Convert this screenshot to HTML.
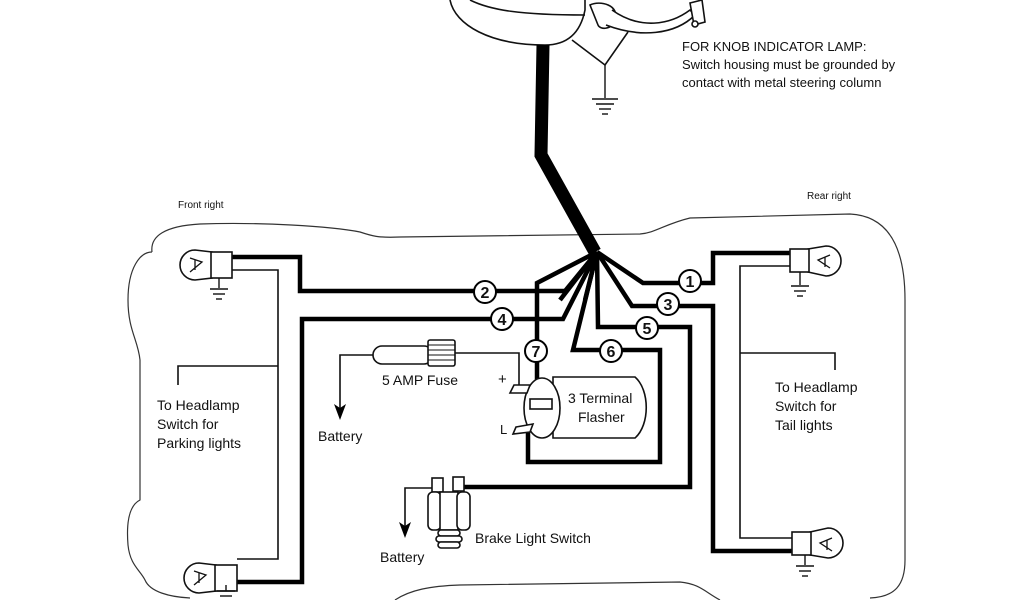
<!DOCTYPE html>
<html><head><meta charset="utf-8"><style>
html,body{margin:0;padding:0;background:#fff;}
svg{display:block;}
text{font-family:"Liberation Sans",sans-serif;fill:#111;}
</style></head><body>
<svg width="1024" height="600" viewBox="0 0 1024 600" xmlns="http://www.w3.org/2000/svg">
<!-- car body outline -->
<g fill="none" stroke="#333" stroke-width="1.2">
<path d="M152,252 C150,236 165,226 200,224 C260,222 330,226 360,232 C372,236 378,238 400,237 L640,234 C655,233 665,224 690,218 L850,214 C890,216 905,250 905,300 L905,560 C905,585 895,597 870,598"/>
<path d="M152,252 C140,252 128,268 128,300 C128,330 138,340 140,360 L140,500 C130,505 126,520 128,545 C130,565 140,570 145,580 C150,592 170,597 190,598"/>
<path d="M395,600 C410,590 430,586 460,585 L680,582 C700,584 705,592 720,600"/>
</g>
<!-- switch at top -->
<g fill="#fff" stroke="#111" stroke-width="1.6">
<path d="M450,0 C455,25 490,45 545,45 C565,45 580,35 585,10 L585,0"/>
<path d="M470,0 C490,10 520,15 585,15"/>
<path d="M590,5 C600,0 620,5 615,20 C612,30 600,30 598,25 Z"/>
<path d="M612,10 C640,30 670,25 690,10 L695,15 C675,35 640,38 606,25"/>
<path d="M690,3 L702,0 L705,22 L694,25 Z"/>
<circle cx="695" cy="24" r="3"/>
<path d="M572,40 L605,65 L628,32"/>
</g>
<g stroke="#111" stroke-width="1.4">
<line x1="605" y1="65" x2="605" y2="98"/>
<line x1="592" y1="99" x2="618" y2="99"/>
<line x1="596" y1="104" x2="614" y2="104"/>
<line x1="599" y1="109" x2="611" y2="109"/>
<line x1="602" y1="114" x2="608" y2="114"/>
</g>
<text x="682" y="51" font-size="13">FOR KNOB INDICATOR LAMP:</text>
<text x="682" y="69" font-size="13">Switch housing must be grounded by</text>
<text x="682" y="87" font-size="13">contact with metal steering column</text>
<path d="M543,45 L541,155 L595,252" fill="none" stroke="#000" stroke-width="13" stroke-linejoin="miter"/>
<text x="178" y="208" font-size="10">Front right</text>
<text x="807" y="199" font-size="10">Rear right</text>

<g fill="none" stroke="#000" stroke-width="4.5" stroke-linejoin="miter">
<path d="M232,257 L300,257 L300,291 L565,291 L597,252"/>
<path d="M237,582 L302,582 L302,319 L563,319 L597,252"/>
<path d="M537,398 L537,283 L597,252"/>
<path d="M528,428 L528,462 L660,462 L660,350 L573,350 L597,252"/>
<path d="M460,487 L690,487 L690,327 L598,327 L597,252"/>
<path d="M792,551 L713,551 L713,306 L632,306 L597,252"/>
<path d="M792,253 L713,253 L713,283 L643,283 L597,252"/>
<path d="M597,252 L585,300 M597,252 L560,300"/>
</g>
<g fill="none" stroke="#111" stroke-width="1.6">
<path d="M232,270 L278,270 L278,559 L237,559"/>
<path d="M178,385 L178,366 L278,366"/>
<path d="M792,266 L740,266 L740,538 L792,538"/>
<path d="M740,353 L835,353 L835,370"/>
<path d="M376,355 L340,355 L340,410"/>
<path d="M455,353 L519,353 L519,385"/>
<path d="M437,488 L405,488 L405,528"/>
</g>
<path d="M334,404 L340,420 L346,404 L340,408 Z" fill="#000"/>
<path d="M399,522 L405,538 L411,522 L405,526 Z" fill="#000"/>

<g fill="#fff" stroke="#111" stroke-width="1.6">
<path d="M212,252 L195,250 A15,15 0 1 0 195,280 L212,278 Z"/>
<rect x="211" y="252" width="21" height="26"/>
<path d="M216,565 L199,563 A15,15 0 1 0 199,593 L216,591 Z"/>
<rect x="215" y="565" width="22" height="26"/>
<path d="M808,249 L826,246 A15,15 0 1 1 826,276 L808,272 Z"/>
<rect x="790" y="249" width="19" height="23"/>
<path d="M810,532 L828,528 A15,15 0 1 1 828,558 L810,555 Z"/>
<rect x="792" y="532" width="19" height="23"/>
</g>
<g fill="none" stroke="#111" stroke-width="1.3">
<path d="M190,258 L202,262 L190,272 M195,260 L195,270"/>
<path d="M194,571 L206,575 L194,585 M199,573 L199,583"/>
<path d="M830,255 L818,260 L830,268 M825,257 L825,267"/>
<path d="M832,538 L820,543 L832,551 M827,540 L827,550"/>
</g>
<g stroke="#111" stroke-width="1.4">
<line x1="219" y1="278" x2="219" y2="288"/><line x1="210" y1="289" x2="228" y2="289"/><line x1="213" y1="294" x2="225" y2="294"/><line x1="216" y1="299" x2="222" y2="299"/>
<line x1="226" y1="591" x2="226" y2="585"/><line x1="217" y1="591" x2="235" y2="591"/><line x1="220" y1="596" x2="232" y2="596"/>
<line x1="800" y1="272" x2="800" y2="285"/><line x1="791" y1="286" x2="809" y2="286"/><line x1="794" y1="291" x2="806" y2="291"/><line x1="797" y1="296" x2="803" y2="296"/>
<line x1="805" y1="555" x2="805" y2="565"/><line x1="796" y1="566" x2="814" y2="566"/><line x1="799" y1="571" x2="811" y2="571"/><line x1="802" y1="576" x2="808" y2="576"/>
</g>

<g fill="#fff" stroke="#111" stroke-width="1.6">
<rect x="373" y="346" width="60" height="18" rx="9"/>
<rect x="428" y="340" width="27" height="26" rx="2"/>
</g>
<g stroke="#111" stroke-width="1"><line x1="428" y1="345" x2="455" y2="345"/><line x1="428" y1="350" x2="455" y2="350"/><line x1="428" y1="355" x2="455" y2="355"/><line x1="428" y1="360" x2="455" y2="360"/></g>
<text x="382" y="385" font-size="14">5 AMP Fuse</text>
<text x="318" y="441" font-size="14">Battery</text>

<g fill="#fff" stroke="#111" stroke-width="1.6">
<path d="M553,377 L635,377 C650,390 650,425 635,438 L553,438 Z"/>
<ellipse cx="542" cy="408" rx="18" ry="30"/>
<path d="M514,385 L530,385 L527,393 L510,393 Z"/>
<rect x="530" y="399" width="22" height="10"/>
<path d="M516,427 L533,424 L530,432 L513,434 Z"/>
</g>
<text x="498" y="384" font-size="15">+</text>
<text x="500" y="434" font-size="13">L</text>
<text x="568" y="403" font-size="14">3 Terminal</text>
<text x="578" y="422" font-size="14">Flasher</text>

<g fill="#fff" stroke="#111" stroke-width="1.6">
<rect x="432" y="478" width="11" height="14"/>
<rect x="453" y="477" width="11" height="14"/>
<rect x="428" y="492" width="13" height="38" rx="5"/>
<rect x="440" y="492" width="18" height="38"/>
<rect x="457" y="492" width="13" height="38" rx="5"/>
<rect x="438" y="530" width="22" height="6" rx="3"/>
<rect x="436" y="536" width="26" height="6" rx="3"/>
<rect x="438" y="542" width="22" height="6" rx="3"/>
</g>
<text x="475" y="543" font-size="14">Brake Light Switch</text>
<text x="380" y="562" font-size="14">Battery</text>

<text x="157" y="410" font-size="14">To Headlamp</text>
<text x="157" y="429" font-size="14">Switch for</text>
<text x="157" y="448" font-size="14">Parking lights</text>
<text x="775" y="392" font-size="14">To Headlamp</text>
<text x="775" y="411" font-size="14">Switch for</text>
<text x="775" y="430" font-size="14">Tail lights</text>

<g fill="#fff" stroke="#000" stroke-width="2">
<circle cx="485" cy="292" r="11"/><circle cx="502" cy="319" r="11"/><circle cx="536" cy="351" r="11"/>
<circle cx="611" cy="351" r="11"/><circle cx="647" cy="328" r="11"/><circle cx="668" cy="304" r="11"/><circle cx="690" cy="281" r="11"/>
</g>
<g font-size="16" font-weight="bold" text-anchor="middle">
<text x="485" y="298">2</text><text x="502" y="325">4</text><text x="536" y="357">7</text>
<text x="611" y="357">6</text><text x="647" y="334">5</text><text x="668" y="310">3</text><text x="690" y="287">1</text>
</g>
</svg>
</body></html>
